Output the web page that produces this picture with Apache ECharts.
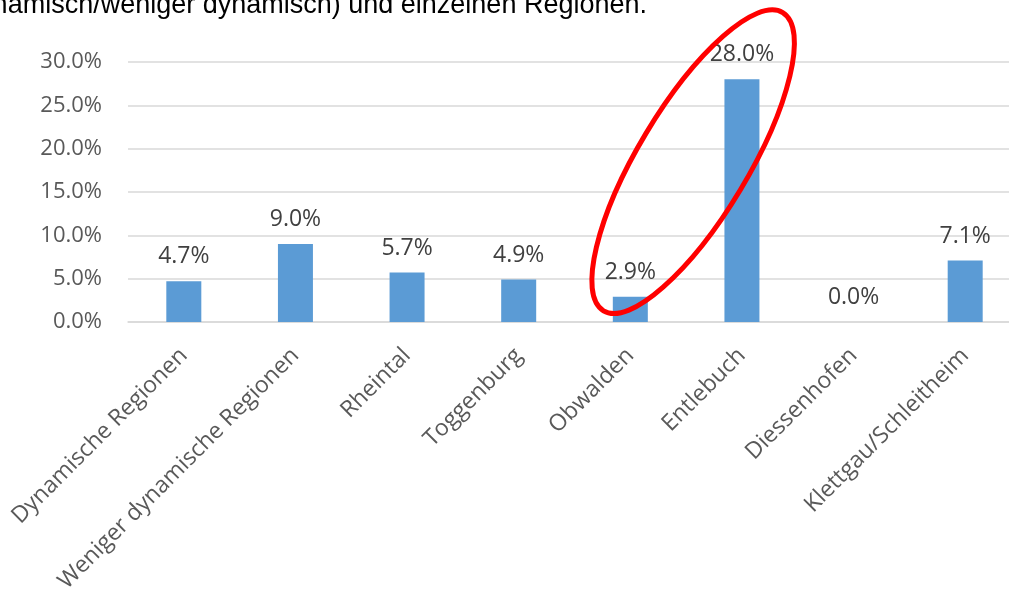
<!DOCTYPE html>
<html>
<head>
<meta charset="utf-8">
<script src="https://cdn.jsdelivr.net/npm/echarts@6/dist/echarts.min.js"></script>
<style>
html, body { margin: 0; padding: 0; background: #fff; overflow: hidden; }
#main { width: 1009px; height: 592px; }
</style>
</head>
<body>
<div id="main"></div>
<script>
// Daten
var regionen = ['Dynamische Regionen', 'Weniger dynamische Regionen', 'Rheintal', 'Toggenburg',
    'Obwalden', 'Entlebuch', 'Diessenhofen', 'Klettgau/Schleitheim'];
var anteile = [4.7, 9.0, 5.7, 4.9, 2.9, 28.0, 0.0, 7.1];
var yTicks = [0, 5, 10, 15, 20, 25, 30];

var chartDom = document.getElementById('main');
var myChart = echarts.init(chartDom);
var option;

option = {
    animation: false,
    grid: {
        left: 128,
        top: 62,
        width: 893,
        height: 260,
        outerBoundsMode: 'none',
        containLabel: false
    },
    xAxis: {
        type: 'category',
        data: regionen,
        axisLine: { lineStyle: { color: '#d9d9d9', width: 1.5 } },
        axisTick: { show: false },
        axisLabel: {
            rotate: 45,
            interval: 0,
            margin: 30,
            fontFamily: 'Open Sans',
            fontSize: 23,
            color: '#595959'
        }
    },
    yAxis: {
        type: 'value',
        min: yTicks[0],
        max: yTicks[yTicks.length - 1],
        interval: 5,
        axisLine: { show: false },
        axisTick: { show: false },
        splitLine: { lineStyle: { color: '#d9d9d9', width: 1.5 } },
        axisLabel: {
            margin: 26,
            fontFamily: 'Open Sans',
            fontSize: 22,
            color: '#595959',
            formatter: function (v) { return v.toFixed(1) + '%'; }
        }
    },
    series: [
        {
            type: 'bar',
            data: anteile,
            barWidth: 35,
            itemStyle: { color: '#5b9bd5' },
            label: {
                show: true,
                position: 'top',
                distance: 13,
                fontFamily: 'Open Sans',
                fontSize: 23,
                color: '#404040',
                formatter: function (p) { return p.value.toFixed(1) + '%'; }
            }
        }
    ]
};

option && myChart.setOption(option);

// Ellipse um Obwalden und Entlebuch, Position aus der Achse
var pObw = myChart.convertToPixel({ gridIndex: 0 }, [4, 18.5]);
var pEnt = myChart.convertToPixel({ gridIndex: 0 }, [5, 18.5]);
myChart.setOption({
    graphic: [
        {
            type: 'text',
            x: 647,
            y: -8,
            style: {
                text: '(dynamisch/weniger dynamisch) und einzelnen Regionen.',
                fontFamily: 'Liberation Sans',
                fontSize: 27,
                fill: '#000',
                align: 'right'
            }
        },
        {
            type: 'ellipse',
            x: (pObw[0] + pEnt[0]) / 2 + 7,
            y: pObw[1],
            rotation: 59 * Math.PI / 180,
            shape: { cx: 0, cy: 0, rx: 174, ry: 55 },
            style: { fill: 'none', stroke: '#ff0000', lineWidth: 5 },
            z: 100
        }
    ]
});
</script>
</body>
</html>
